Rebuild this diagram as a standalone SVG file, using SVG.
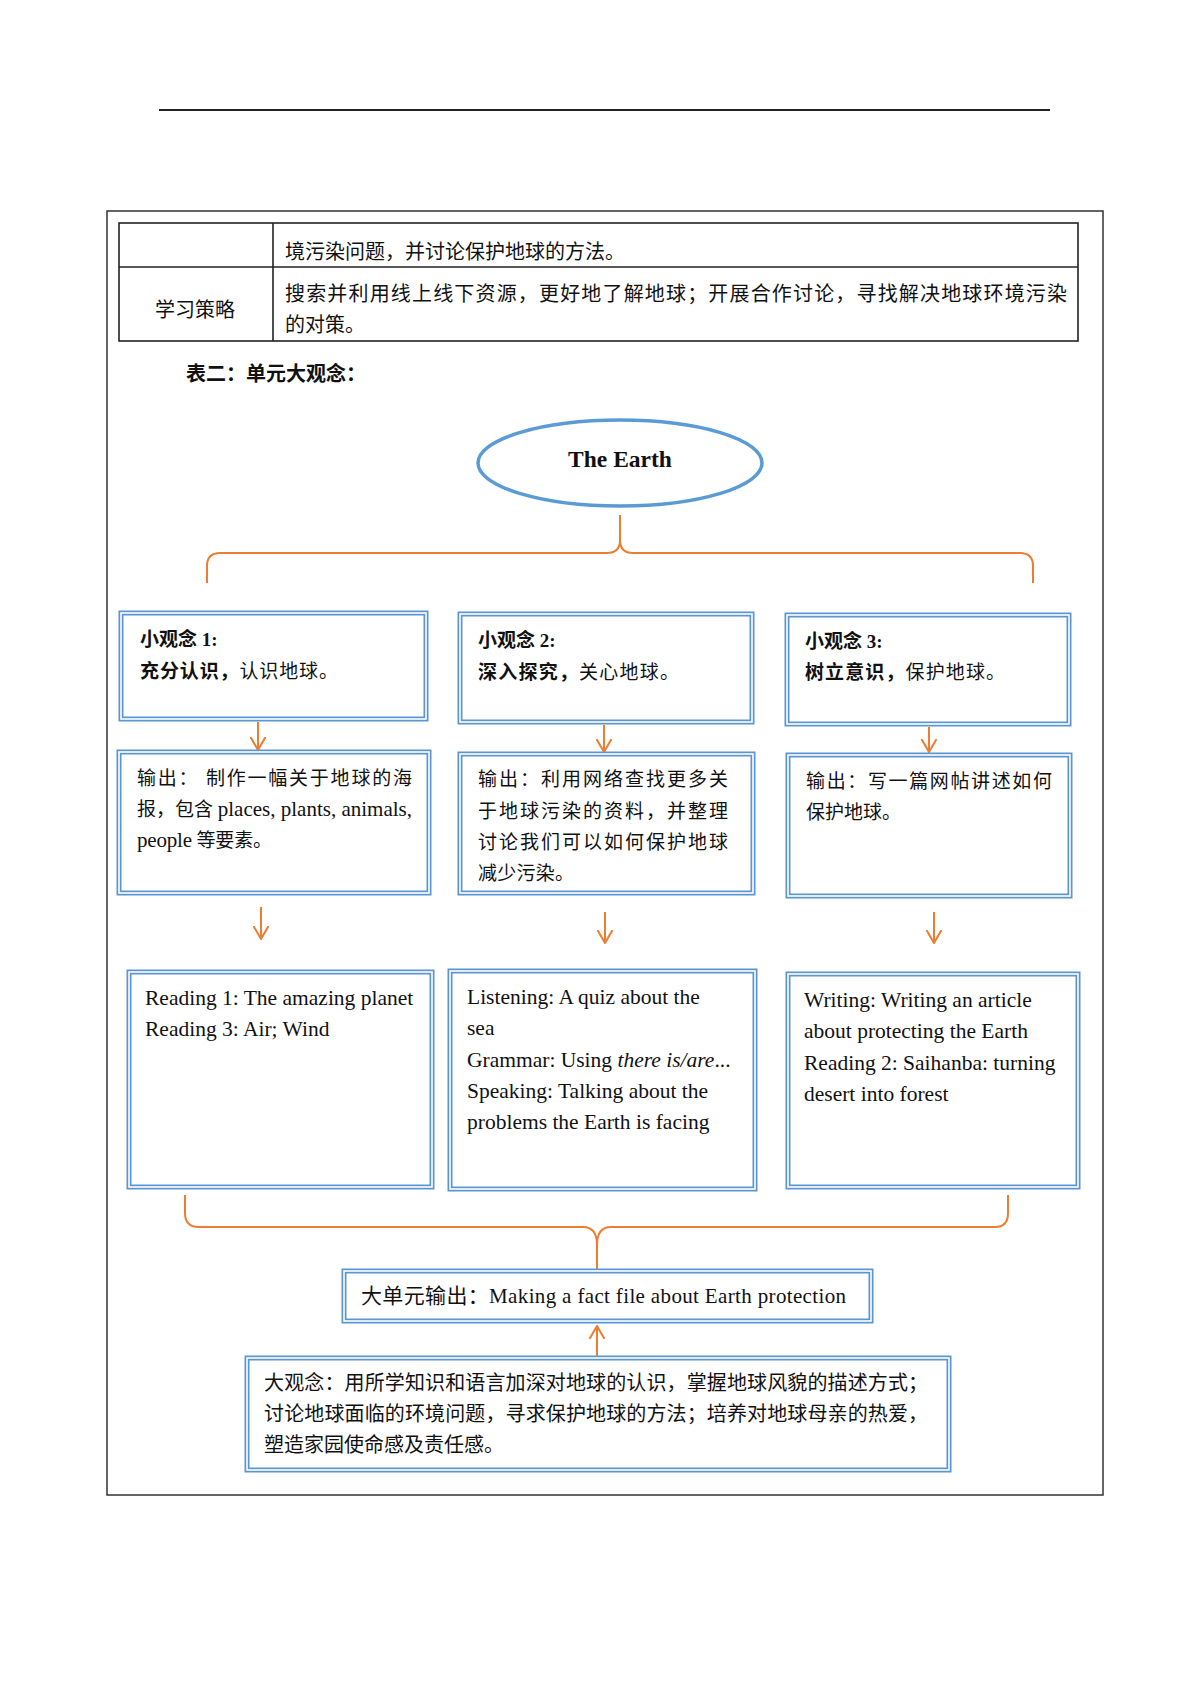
<svg xmlns="http://www.w3.org/2000/svg" width="1200" height="1697" viewBox="0 0 1200 1697">
<style>
text{font-family:"Liberation Serif","Noto Sans CJK SC",serif;fill:#111}
.cn{font-size:20px}
.bx{font-size:19px}
.en{font-size:21.5px}
.b{font-weight:bold}
.box{fill:#fff;stroke:#5b95d2;stroke-width:5}
.boxin{fill:none;stroke:#fff;stroke-width:1.6}
.tbl{fill:none;stroke:#222;stroke-width:1.6}
.con{fill:none;stroke:#ed7d31;stroke-width:2}
</style>
<defs>
<marker id="ah" markerUnits="userSpaceOnUse" viewBox="0 0 14 16" refX="13" refY="8" markerWidth="14" markerHeight="16" orient="auto">
<path d="M0,0.5 L13,8 L0,15.5" fill="none" stroke="#ed7d31" stroke-width="2"/>
</marker>
</defs>
<rect width="1200" height="1697" fill="#fff"/>
<line x1="159" y1="110" x2="1050" y2="110" stroke="#222" stroke-width="1.8"/>
<rect x="107" y="211" width="996" height="1284" fill="none" stroke="#333" stroke-width="1.5"/>

<g id="table">
<rect class="tbl" x="119" y="223" width="959" height="118"/>
<line class="tbl" x1="119" y1="267" x2="1078" y2="267"/>
<line class="tbl" x1="273" y1="223" x2="273" y2="341"/>
<text class="cn" x="285" y="259" font-size="20.5">境污染问题，并讨论保护地球的方法。</text>
<text class="cn" x="155" y="317">学习策略</text>
<text class="cn" x="285" y="301" textLength="782" lengthAdjust="spacing">搜索并利用线上线下资源，更好地了解地球；开展合作讨论，寻找解决地球环境污染</text>
<text class="cn" x="285" y="332">的对策。</text>
</g>
<text class="cn b" x="186" y="381">表二：单元大观念：</text>

<g id="connectors">
<path class="con" d="M207,583 V566 Q207,553 220,553 H607 Q620,553 620,540 V515 M620,540 Q620,553 633,553 H1020 Q1033,553 1033,566 V583"/>
<line class="con" x1="258" y1="722" x2="258" y2="750" marker-end="url(#ah)"/>
<line class="con" x1="604" y1="725" x2="604" y2="752" marker-end="url(#ah)"/>
<line class="con" x1="929" y1="727" x2="929" y2="752" marker-end="url(#ah)"/>
<line class="con" x1="261" y1="907" x2="261" y2="939" marker-end="url(#ah)"/>
<line class="con" x1="605" y1="912" x2="605" y2="943" marker-end="url(#ah)"/>
<line class="con" x1="934" y1="912" x2="934" y2="943" marker-end="url(#ah)"/>
<path class="con" d="M185,1195 V1213 Q185,1227 199,1227 H583 Q597,1227 597,1245 Q597,1227 611,1227 H995 Q1008,1227 1008,1213 V1195 M597,1245 V1269"/>
<line class="con" x1="597" y1="1356" x2="597" y2="1326" marker-end="url(#ah)"/>
</g>

<g id="earth">
<ellipse cx="620" cy="463" rx="142" ry="43" fill="#fff" stroke="#5b9bd5" stroke-width="3.5"/>
<text x="620" y="467" text-anchor="middle" font-size="23.5" font-weight="bold">The Earth</text>
</g>

<g id="idea1">
<rect class="box" x="121" y="613" width="305" height="106"/><rect class="boxin" x="121" y="613" width="305" height="106"/>
<text class="bx b" x="140" y="646">小观念 1:</text>
<text class="bx" x="140" y="678" textLength="198" lengthAdjust="spacing"><tspan font-weight="bold">充分认识，</tspan>认识地球。</text>
</g>
<g id="idea2">
<rect class="box" x="460" y="614" width="292" height="108"/><rect class="boxin" x="460" y="614" width="292" height="108"/>
<text class="bx b" x="478" y="647">小观念 2:</text>
<text class="bx" x="478" y="679" textLength="201" lengthAdjust="spacing"><tspan font-weight="bold">深入探究，</tspan>关心地球。</text>
</g>
<g id="idea3">
<rect class="box" x="787" y="615" width="282" height="109"/><rect class="boxin" x="787" y="615" width="282" height="109"/>
<text class="bx b" x="805" y="648">小观念 3:</text>
<text class="bx" x="805" y="679" textLength="200" lengthAdjust="spacing"><tspan font-weight="bold">树立意识，</tspan>保护地球。</text>
</g>

<g id="output1">
<rect class="box" x="119" y="752" width="310" height="141"/><rect class="boxin" x="119" y="752" width="310" height="141"/>
<text class="bx" x="137" y="785" textLength="275" lengthAdjust="spacing">输出： 制作一幅关于地球的海</text>
<text class="bx" x="137" y="816" textLength="275" lengthAdjust="spacing">报，包含 <tspan font-size="21">places, plants, animals,</tspan></text>
<text class="bx" x="137" y="847" textLength="135" lengthAdjust="spacing"><tspan font-size="21">people</tspan> 等要素。</text>
</g>
<g id="output2">
<rect class="box" x="460" y="754" width="293" height="139"/><rect class="boxin" x="460" y="754" width="293" height="139"/>
<text class="bx" x="478" y="786" textLength="250" lengthAdjust="spacing">输出：利用网络查找更多关</text>
<text class="bx" x="478" y="818" textLength="250" lengthAdjust="spacing">于地球污染的资料，并整理</text>
<text class="bx" x="478" y="849" textLength="250" lengthAdjust="spacing">讨论我们可以如何保护地球</text>
<text class="bx" x="478" y="880" textLength="96" lengthAdjust="spacing">减少污染。</text>
</g>
<g id="output3">
<rect class="box" x="788" y="755" width="282" height="141"/><rect class="boxin" x="788" y="755" width="282" height="141"/>
<text class="bx" x="806" y="788" textLength="246" lengthAdjust="spacing">输出：写一篇网帖讲述如何</text>
<text class="bx" x="806" y="819">保护地球。</text>
</g>

<g id="lessons1">
<rect class="box" x="129" y="972" width="303" height="215"/><rect class="boxin" x="129" y="972" width="303" height="215"/>
<text class="en" x="145" y="1005" font-size="21.2">Reading 1: The amazing planet</text>
<text class="en" x="145" y="1036" font-size="21.2">Reading 3: Air; Wind</text>
</g>
<g id="lessons2">
<rect class="box" x="450" y="971" width="305" height="218"/><rect class="boxin" x="450" y="971" width="305" height="218"/>
<text class="en" x="467" y="1004">Listening: A quiz about the</text>
<text class="en" x="467" y="1035">sea</text>
<text class="en" x="467" y="1067">Grammar: Using <tspan font-style="italic">there is/are</tspan>...</text>
<text class="en" x="467" y="1098">Speaking: Talking about the</text>
<text class="en" x="467" y="1129">problems the Earth is facing</text>
</g>
<g id="lessons3">
<rect class="box" x="788" y="974" width="290" height="213"/><rect class="boxin" x="788" y="974" width="290" height="213"/>
<text class="en" x="804" y="1007">Writing: Writing an article</text>
<text class="en" x="804" y="1038">about protecting the Earth</text>
<text class="en" x="804" y="1070">Reading 2: Saihanba: turning</text>
<text class="en" x="804" y="1101">desert into forest</text>
</g>

<g id="unit-output">
<rect class="box" x="344" y="1271" width="527" height="50"/><rect class="boxin" x="344" y="1271" width="527" height="50"/>
<text x="361" y="1303" font-size="21" textLength="485" lengthAdjust="spacing">大单元输出：Making a fact file about Earth protection</text>
</g>

<g id="big-idea">
<rect class="box" x="247" y="1358" width="702" height="112"/><rect class="boxin" x="247" y="1358" width="702" height="112"/>
<text class="cn" x="264" y="1390" textLength="664" lengthAdjust="spacing">大观念：用所学知识和语言加深对地球的认识，掌握地球风貌的描述方式；</text>
<text class="cn" x="264" y="1421" textLength="664" lengthAdjust="spacing">讨论地球面临的环境问题，寻求保护地球的方法；培养对地球母亲的热爱，</text>
<text class="cn" x="264" y="1452">塑造家园使命感及责任感。</text>
</g>
</svg>
